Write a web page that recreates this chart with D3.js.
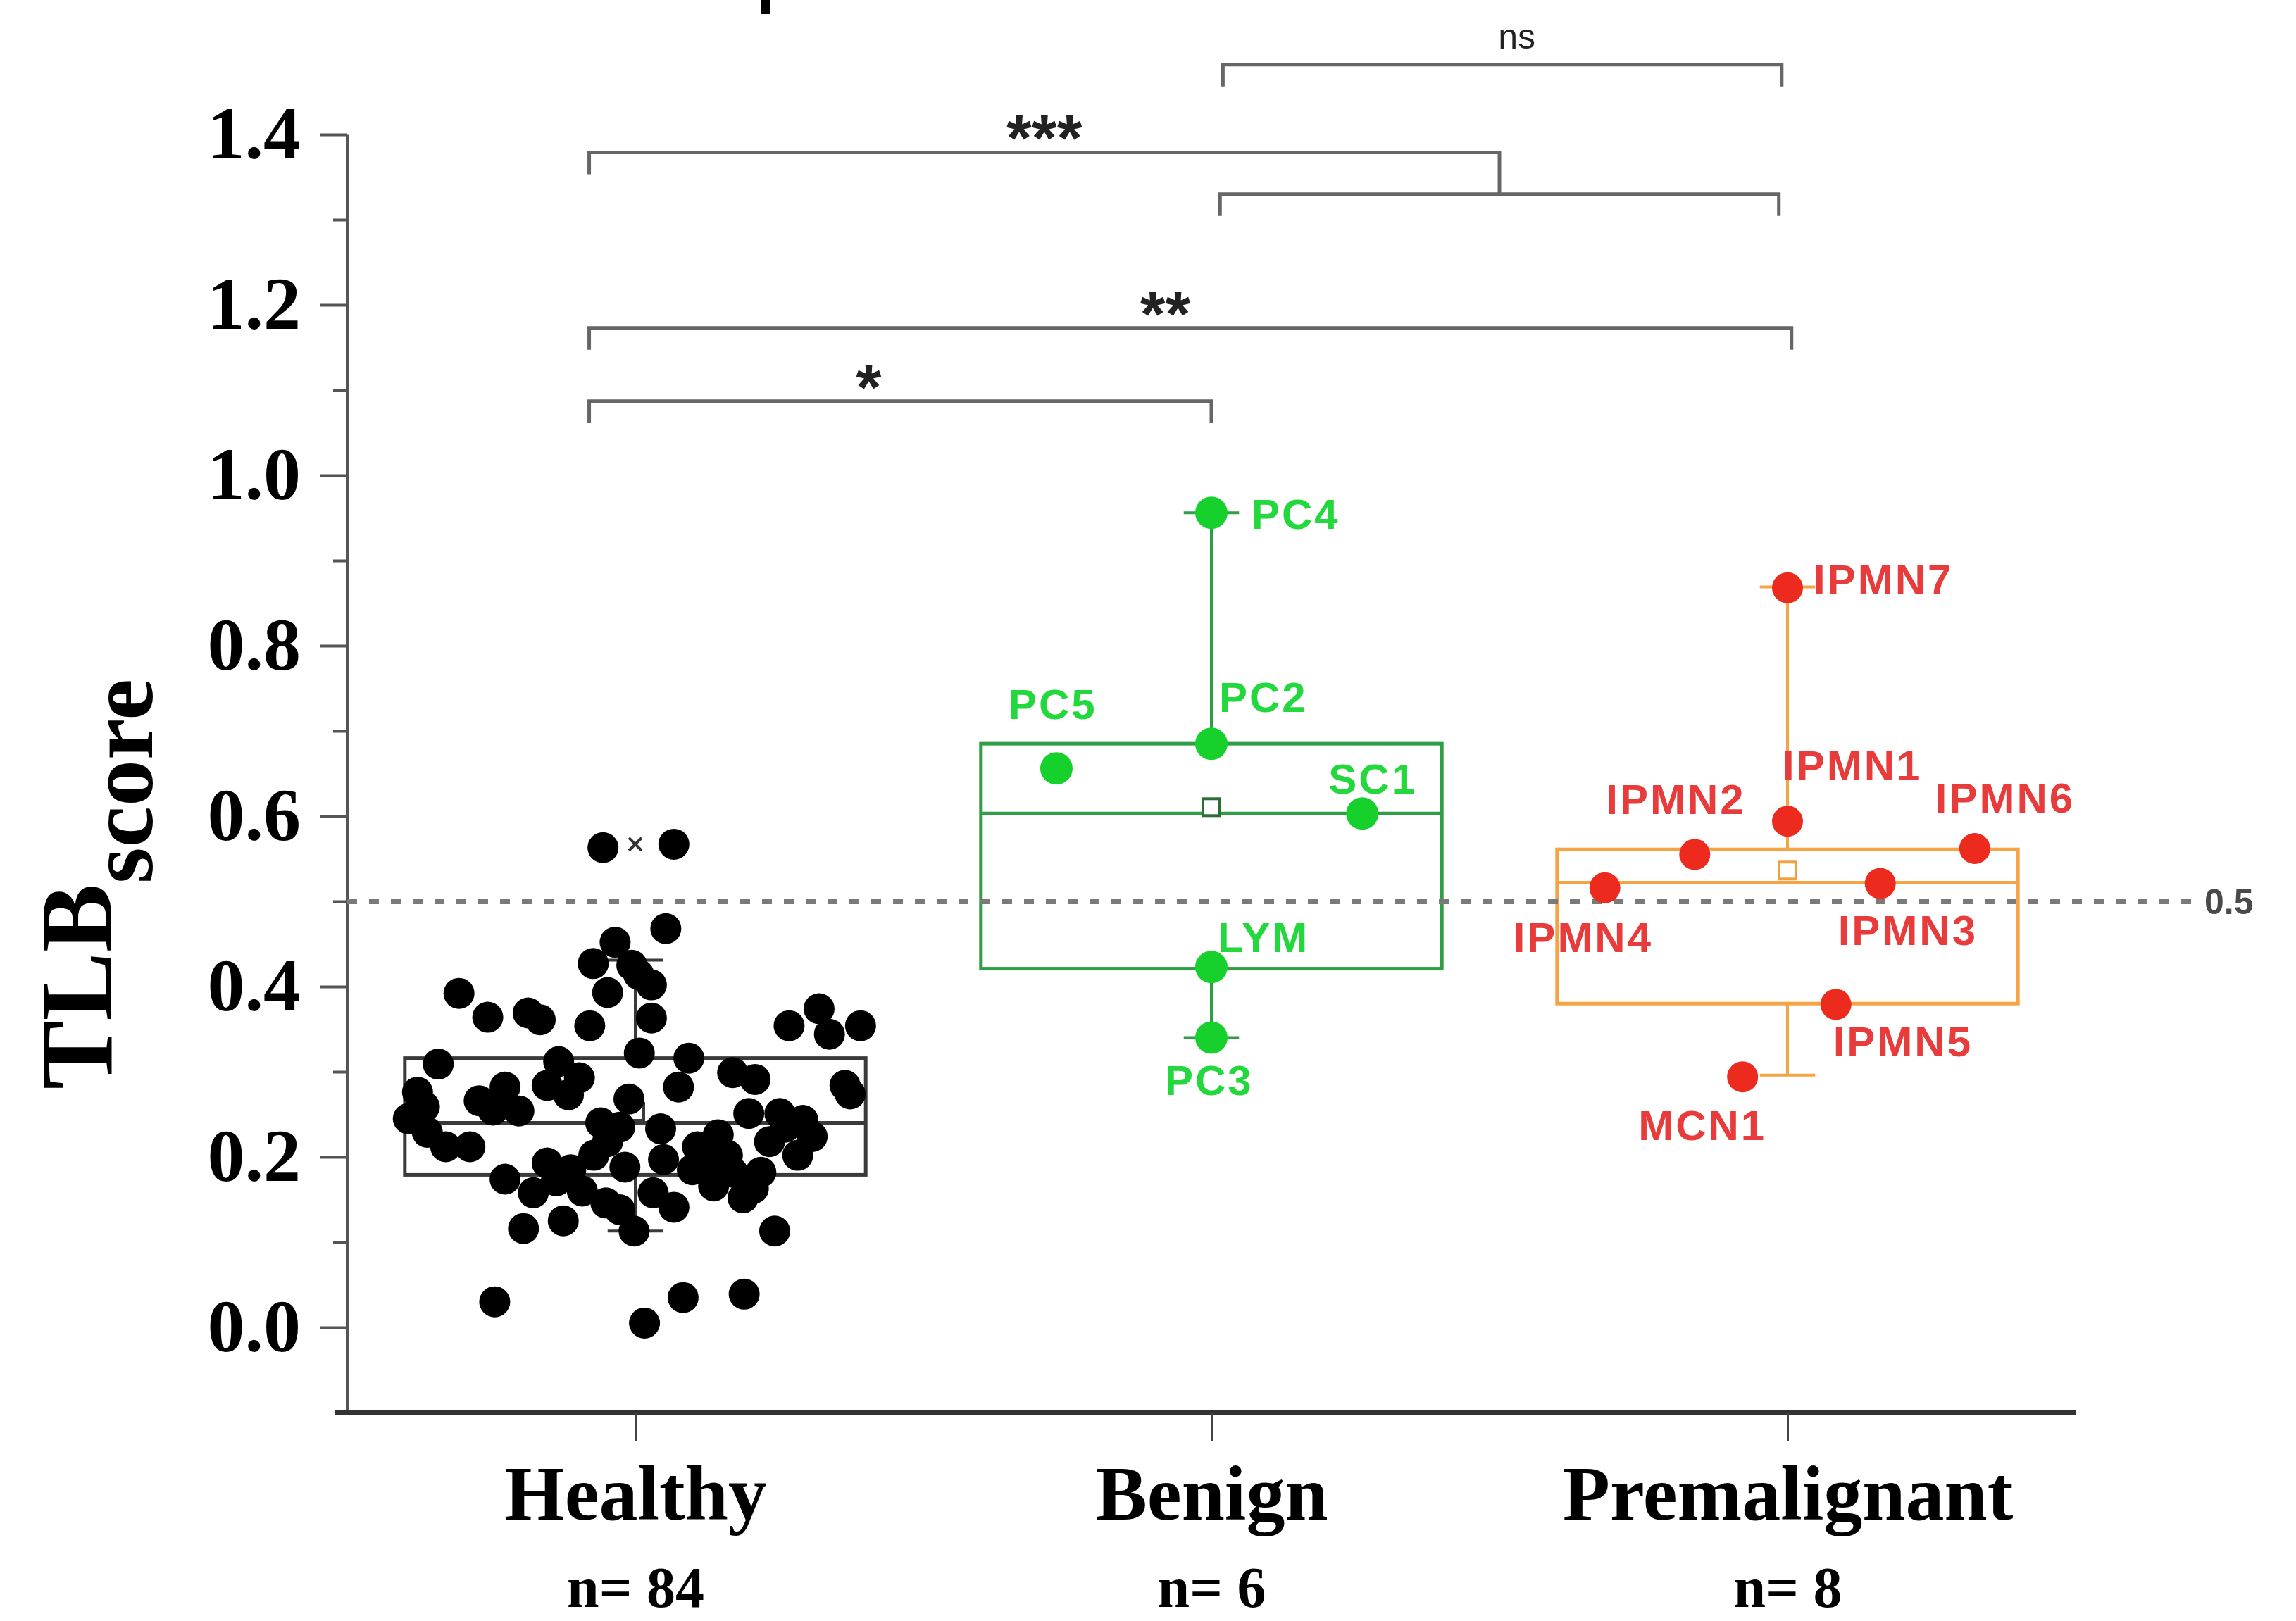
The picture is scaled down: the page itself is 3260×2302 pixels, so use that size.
<!DOCTYPE html>
<html>
<head>
<meta charset="utf-8">
<script src="https://cdn.jsdelivr.net/npm/d3@7"></script>
<style>
    html, body { margin: 0; padding: 0; background: #fff; }
    svg { display: block; }
</style>
</head>
<body>
<svg id="chart"></svg>
<script>

const categories = ["Healthy", "Benign", "Premalignant"];
const groupSizes = [84, 6, 8];
const yTickValues = [0, 0.2, 0.4, 0.6, 0.8, 1.0, 1.2, 1.4];
const yMinorValues = [0.1, 0.3, 0.5, 0.7, 0.9, 1.1, 1.3];
const cutoff = 0.5;

// healthy controls: score and horizontal jitter (category units)
const healthyValues = [
    0.563, 0.567, 0.468, 0.452, 0.425, 0.402, 0.427, 0.393, 0.363, 0.322,
    0.392, 0.364, 0.369, 0.361, 0.354, 0.309, 0.312, 0.293, 0.282, 0.354,
    0.374, 0.344, 0.354, 0.316, 0.299, 0.291, 0.284, 0.274, 0.276, 0.245,
    0.229, 0.212, 0.212, 0.266, 0.254, 0.284, 0.273, 0.268, 0.240, 0.235,
    0.233, 0.174, 0.158, 0.193, 0.185, 0.202, 0.188, 0.160, 0.146, 0.138,
    0.113, 0.158, 0.197, 0.116, 0.125, 0.030, 0.005, 0.282, 0.251, 0.251,
    0.218, 0.224, 0.202, 0.226, 0.212, 0.185, 0.166, 0.182, 0.182, 0.163,
    0.141, 0.113, 0.035, 0.039, 0.197, 0.202, 0.259, 0.414, 0.235, 0.172,
    0.255, 0.218, 0.243, 0.152
];
const healthyJitter = [
    -0.056, 0.067, 0.053, -0.035, -0.006, 0.028, -0.073, -0.048, 0.028, 0.007,
    -0.306, -0.256, -0.186, -0.165, -0.079, -0.342, -0.133, -0.097, -0.226, 0.267,
    0.319, 0.337, 0.391, 0.093, 0.169, 0.208, 0.364, 0.373, -0.378, -0.394,
    -0.361, -0.329, -0.287, -0.271, -0.202, -0.153, -0.116, -0.011, -0.060, -0.027,
    0.044, -0.226, -0.177, -0.153, -0.112, -0.072, -0.018, -0.092, -0.051, -0.027,
    -0.002, 0.031, 0.049, -0.194, -0.125, -0.244, 0.016, 0.075, 0.197, 0.251,
    0.233, 0.307, 0.282, 0.144, 0.108, 0.099, 0.136, 0.169, 0.218, 0.205,
    0.067, 0.242, 0.083, 0.189, 0.128, 0.160, -0.366, 0.006, 0.260, -0.137,
    -0.247, -0.048, 0.291, 0.187
];
const healthyExtremes = [0.567];

const benignNames = ["PC4", "PC2", "PC5", "SC1", "LYM", "PC3"];
const benignValues = [0.956, 0.685, 0.656, 0.603, 0.423, 0.340];
const benignJitter = [0, 0, -0.269, 0.262, 0, 0];

const premNames = ["IPMN7", "IPMN1", "IPMN2", "IPMN6", "IPMN4", "IPMN3", "IPMN5", "MCN1"];
const premValues = [0.868, 0.594, 0.555, 0.562, 0.516, 0.521, 0.379, 0.294];
const premJitter = [0, 0, -0.161, 0.325, -0.317, 0.161, 0.084, -0.078];

// [whisker low, q1, median, q3, whisker high]
const healthyBox = [0.113, 0.179, 0.240, 0.316, 0.431];
const benignBox = [0.340, 0.421, 0.603, 0.685, 0.956];
const premBox = [0.296, 0.380, 0.522, 0.561, 0.869];

// significance brackets, x in category units, y in score units
const sigBrackets = [
    { x1: 2.02, x2: 2.99, y: 1.482, label: "ns", lx: 2.53 },
    { x1: 0.92, x2: 2.50, y: 1.379, label: "***", lx: 1.71, rightTo: 1.330 },
    { x1: 2.015, x2: 2.985, y: 1.330, label: "", lx: 2.5 },
    { x1: 0.92, x2: 3.007, y: 1.173, label: "**", lx: 1.92 },
    { x1: 0.92, x2: 2.0, y: 1.087, label: "*", lx: 1.405 }
];

// label placement (px from the point centre to text start / baseline)
const labelOffsets = {
    PC4: [57, 23], PC2: [11, -45], PC5: [-68, -70], SC1: [-48, -28], LYM: [9, -21], PC3: [-66, 81],
    IPMN7: [37, 9], IPMN1: [-7, -58], IPMN2: [-126, -57], IPMN6: [-56, -51],
    IPMN4: [-130, 91], IPMN3: [-60, 87], IPMN5: [-4, 74], MCN1: [-148, 90]
};

const SERIF = "'Liberation Serif', 'Times New Roman', serif";
const SANS = "'Liberation Sans', Arial, sans-serif";

class TlbChart {

    constructor(width, height) {
        this._width = width;
        this._height = height;
        this._margin = { top: 191, right: 313, bottom: 296, left: 493 };
        this._init();
    }

    _init() {
        this._svg = d3.select("#chart")
            .attr("width", this._width)
            .attr("height", this._height);

        const m = this._margin;
        this._x = d3.scaleLinear().domain([0.5, 3.5]).range([m.left, this._width - m.right]);
        this._y = d3.scaleLinear().domain([-0.1, 1.4]).range([this._height - m.bottom, m.top]);
        this._halfBox = 0.40;
        this._capHalf = 0.048;

        // stray mark at the top edge of the source figure
        this._svg.append("rect")
            .attr("x", 1081).attr("y", 0)
            .attr("width", 12).attr("height", 20)
            .attr("fill", "#000");

        this._drawAxes();
        this._drawBrackets();

        this._drawBox(1, healthyBox, d3.mean(healthyValues), "#3a3a3a", "#3a3a3a");
        this._drawBox(2, benignBox, d3.mean(benignValues), "#2f9e44", "#2b6e33");
        this._drawBox(3, premBox, d3.mean(premValues), "#f5a445", "#f0a040");
        this._drawCutoff();

        this._drawHealthy();
        this._drawNamed(2, benignNames, benignValues, benignJitter, "#16d12c", "#22d83c", 23);
        this._drawNamed(3, premNames, premValues, premJitter, "#ec2a1e", "#e83c3c", 22);
    }

    _drawAxes() {
        const x = this._x, y = this._y;
        const x0 = x.range()[0], y0 = y.range()[0];

        const yAxis = this._svg.append("g")
            .attr("class", "axis axis--y")
            .attr("transform", "translate(" + x0 + ",0)")
            .call(d3.axisLeft(y).tickValues(yTickValues).tickSize(38).tickPadding(28)
                .tickSizeOuter(0).tickFormat(d3.format(".1f")));
        yAxis.select(".domain").attr("stroke", "#555").attr("stroke-width", 5);
        yAxis.selectAll(".tick line").attr("stroke", "#555").attr("stroke-width", 4);
        yAxis.selectAll(".tick text")
            .attr("font-family", SERIF).attr("font-weight", "bold")
            .attr("font-size", 106).attr("fill", "#000");

        const yMinor = this._svg.append("g")
            .attr("class", "axis axis--y-minor")
            .attr("transform", "translate(" + x0 + ",0)")
            .call(d3.axisLeft(y).tickValues(yMinorValues).tickSize(20).tickFormat(""));
        yMinor.select(".domain").remove();
        yMinor.selectAll(".tick line").attr("stroke", "#555").attr("stroke-width", 4);

        const xAxis = this._svg.append("g")
            .attr("class", "axis axis--x")
            .attr("transform", "translate(0," + y0 + ")")
            .call(d3.axisBottom(x).tickValues([1, 2, 3]).tickSize(40).tickPadding(34)
                .tickSizeOuter(0).tickFormat(d => categories[d - 1]));
        xAxis.select(".domain")
            .attr("d", "M" + (x0 - 18) + ",0H" + x.range()[1])
            .attr("stroke", "#333").attr("stroke-width", 6);
        xAxis.selectAll(".tick line").attr("stroke", "#444").attr("stroke-width", 3);
        xAxis.selectAll(".tick text")
            .attr("font-family", SERIF).attr("font-weight", "bold")
            .attr("font-size", 110).attr("fill", "#000");
        xAxis.selectAll(".tick").append("text")
            .attr("class", "n-label")
            .attr("y", 276)
            .attr("text-anchor", "middle")
            .attr("font-family", SERIF).attr("font-weight", "bold")
            .attr("font-size", 82).attr("fill", "#000")
            .text((d, i) => "n= " + groupSizes[i]);

        const title = this._svg.append("text")
            .attr("transform", "translate(158,1547) rotate(-90)")
            .attr("font-family", SERIF).attr("font-weight", "bold")
            .attr("fill", "#000");
        title.append("tspan").attr("font-size", 146).text("TLB");
        title.append("tspan").attr("font-size", 132).attr("dy", 58).text("score");
    }

    _drawBrackets() {
        const x = this._x, y = this._y, leg = 31;
        const g = this._svg.append("g").attr("class", "brackets");

        g.selectAll("path")
            .data(sigBrackets)
            .join("path")
            .attr("fill", "none")
            .attr("stroke", "#666")
            .attr("stroke-width", 5)
            .attr("d", d => {
                const yy = y(d.y);
                const yr = d.rightTo !== undefined ? y(d.rightTo) : yy + leg;
                return "M" + x(d.x1) + "," + (yy + leg) + "V" + yy + "H" + x(d.x2) + "V" + yr;
            });

        g.selectAll("text")
            .data(sigBrackets.filter(d => d.label))
            .join("text")
            .attr("x", d => x(d.lx))
            .attr("y", d => d.label === "ns" ? y(d.y) - 23 : y(d.y) + 12)
            .attr("text-anchor", "middle")
            .attr("font-family", SANS)
            .attr("font-weight", d => d.label === "ns" ? "normal" : "bold")
            .attr("font-size", d => d.label === "ns" ? 50 : 92)
            .attr("fill", "#222")
            .text(d => d.label);
    }

    _drawBox(cat, stats, mean, stroke, meanStroke) {
        const x = this._x, y = this._y;
        const [lo, q1, med, q3, hi] = stats;
        const g = this._svg.append("g").attr("class", "box box-" + cat)
            .attr("stroke", stroke).attr("fill", "none");
        const xl = x(cat - this._halfBox), xr = x(cat + this._halfBox), xc = x(cat);
        const cl = x(cat - this._capHalf), cr = x(cat + this._capHalf);

        g.append("line").attr("x1", xc).attr("x2", xc).attr("y1", y(q3)).attr("y2", y(hi)).attr("stroke-width", 4);
        g.append("line").attr("x1", xc).attr("x2", xc).attr("y1", y(q1)).attr("y2", y(lo)).attr("stroke-width", 4);
        g.append("line").attr("x1", cl).attr("x2", cr).attr("y1", y(hi)).attr("y2", y(hi)).attr("stroke-width", 4);
        g.append("line").attr("x1", cl).attr("x2", cr).attr("y1", y(lo)).attr("y2", y(lo)).attr("stroke-width", 4);
        g.append("rect")
            .attr("x", xl).attr("y", y(q3))
            .attr("width", xr - xl).attr("height", y(q1) - y(q3))
            .attr("stroke-width", 5);
        g.append("line").attr("x1", xl).attr("x2", xr).attr("y1", y(med)).attr("y2", y(med)).attr("stroke-width", 5);
        g.append("rect")
            .attr("x", xc - 12).attr("y", y(mean) - 12)
            .attr("width", 24).attr("height", 24)
            .attr("fill", "#fff").attr("stroke", meanStroke).attr("stroke-width", 4);
    }

    _drawCutoff() {
        const y = this._y;
        this._svg.append("line")
            .attr("class", "cutoff")
            .attr("x1", this._x.range()[0]).attr("x2", 3113)
            .attr("y1", y(cutoff)).attr("y2", y(cutoff))
            .attr("stroke", "#7a7a7a").attr("stroke-width", 8)
            .attr("stroke-dasharray", "14,17");
        this._svg.append("text")
            .attr("x", 3130).attr("y", y(cutoff) + 18)
            .attr("font-family", SANS).attr("font-weight", "bold")
            .attr("font-size", 50).attr("fill", "#4a4a4a")
            .text(cutoff.toString());
    }

    _drawHealthy() {
        const x = this._x, y = this._y;
        const g = this._svg.append("g").attr("class", "points points-1");

        g.selectAll("circle")
            .data(healthyValues)
            .join("circle")
            .attr("cx", (d, i) => x(1 + healthyJitter[i]))
            .attr("cy", d => y(d))
            .attr("r", 22)
            .attr("fill", "#000");

        // 99th percentile cross
        g.selectAll("path")
            .data(healthyExtremes)
            .join("path")
            .attr("d", d => {
                const cx = x(1), cy = y(d), s = 9;
                return "M" + (cx - s) + "," + (cy - s) + "L" + (cx + s) + "," + (cy + s) +
                    "M" + (cx - s) + "," + (cy + s) + "L" + (cx + s) + "," + (cy - s);
            })
            .attr("stroke", "#333").attr("stroke-width", 4);
    }

    _drawNamed(cat, names, values, jitter, pointColor, labelColor, r) {
        const x = this._x, y = this._y;
        const g = this._svg.append("g").attr("class", "points points-" + cat);
        const pts = names.map((n, i) => ({ name: n, value: values[i], cx: x(cat + jitter[i]), cy: y(values[i]) }));

        g.selectAll("circle")
            .data(pts)
            .join("circle")
            .attr("cx", d => d.cx)
            .attr("cy", d => d.cy)
            .attr("r", r)
            .attr("fill", pointColor);

        g.selectAll("text")
            .data(pts)
            .join("text")
            .attr("x", d => d.cx + labelOffsets[d.name][0])
            .attr("y", d => d.cy + labelOffsets[d.name][1])
            .attr("font-family", SANS).attr("font-weight", "bold")
            .attr("font-size", 60).attr("letter-spacing", 3)
            .attr("fill", labelColor)
            .text(d => d.name);
    }
}

new TlbChart(3260, 2302);
</script>
</body>
</html>
